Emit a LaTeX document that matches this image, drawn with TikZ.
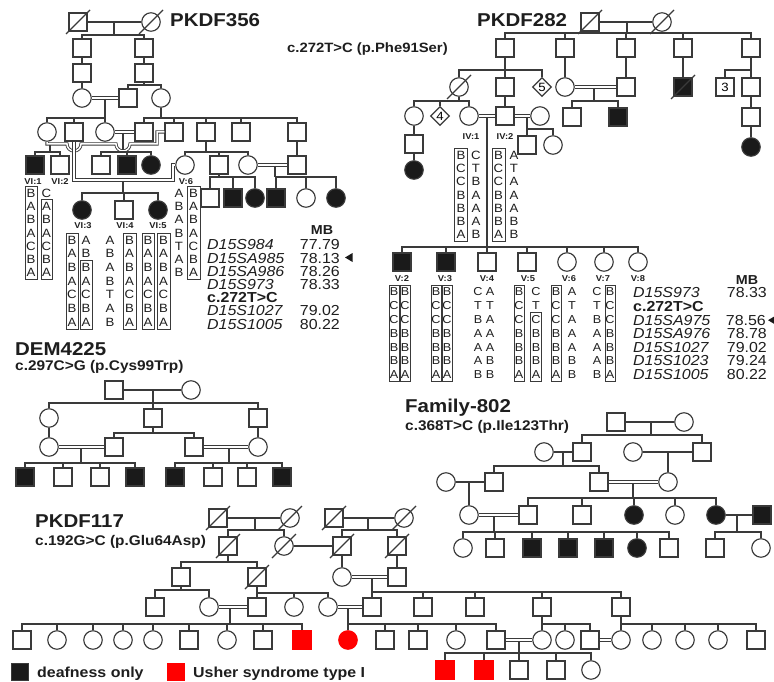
\documentclass[tikz,border=0pt]{standalone}
\usepackage{fontspec}
\setmainfont[FakeStretch=1.1]{Liberation Sans}
\usetikzlibrary{shapes.geometric}
\definecolor{lc}{HTML}{3A3A3A}
\definecolor{aff}{HTML}{1A1A1A}
\definecolor{ush}{HTML}{FF0000}
\definecolor{tc}{HTML}{1E1E1E}
\newcommand{\fsz}[1]{\fontsize{#1}{#1}\selectfont}
\newcommand{\kid}[2]{\draw[ln] (#1.north) |- (#2);}
\newcommand{\decd}[1]{\draw[ln] ([shift={(-12pt,-12pt)}]#1.center) -- ([shift={(12pt,12pt)}]#1.center);}
\newcommand{\hcol}[6]{\foreach \l [count=\i from 0] in {#6}{\node[hl,font=\fsz{#5}] (#1-\i) at (#2,#3+\i*#4) {\l};}}
\newcommand{\hbx}[6]{\draw[hb] (#1-#6,#2+#3*#4-#3/2) rectangle (#1+#6,#2+#3*#5+#3/2);}
\begin{document}
\begin{tikzpicture}[x=1pt,y=-1pt,
 ln/.style={draw=lc,line width=1.15pt},
 dbl/.style={draw=lc,double=white,double distance=1.5pt,line width=0.85pt},
 sym/.style={draw=lc,line width=1.15pt,fill=white,inner sep=0pt,minimum size=18pt},
 sq/.style={sym,rectangle},
 ci/.style={sym,circle,minimum size=18.5pt},
 fsq/.style={sq,fill=aff}, fci/.style={ci,fill=aff},
 rsq/.style={sq,fill=ush,draw=ush}, rci/.style={ci,fill=ush,draw=ush},
 dia/.style={sym,diamond,minimum size=19pt,font=\fsz{12}},
 nsq/.style={sq,font=\fsz{12}},
 ttl/.style={inner sep=0pt,anchor=base west,text=tc,font=\fsz{18.6}\bfseries},
 sub/.style={inner sep=0pt,anchor=base west,text=tc,font=\fsz{14}\bfseries},
 lab/.style={inner sep=0pt,text=tc,font=\fsz{8.5}\bfseries},
 hl/.style={inner sep=0pt,text=tc},
 hb/.style={draw=lc,line width=0.75pt},
 mk/.style={inner sep=0pt,anchor=west,text=tc,font=\fsz{14.5}\itshape},
 mkb/.style={inner sep=0pt,anchor=west,text=tc,font=\fsz{14.5}\bfseries},
 mv/.style={inner sep=0pt,anchor=east,text=tc,font=\fsz{14.5}},
 mb/.style={inner sep=0pt,text=tc,font=\fsz{13}\bfseries},
 leg/.style={inner sep=0pt,anchor=base west,text=tc,font=\fsz{14.5}\bfseries}
]
\useasboundingbox[fill=white] (0,0) rectangle (774,682);

%================ PKDF356 ================
\node[ttl] (A-t) at (170,27) {PKDF356};
\node[sq] (A1) at (78,22) {}; \node[ci] (A2) at (151,22) {};
\draw[ln] (A1) -- (A2);
\coordinate (A12m) at (114,22); \coordinate (A12s) at (114,35);
\draw[ln] (A12m) -- (A12s);
\node[sq] (A3) at (82,48) {}; \node[sq] (A4) at (144,48) {};
\kid{A3}{A12s} \kid{A4}{A12s}
\node[sq] (A5) at (82,73) {}; \node[sq] (A6) at (144,73) {};
\draw[ln] (A3) -- (A5); \draw[ln] (A4) -- (A6);
\node[ci] (A7) at (82,98) {}; \draw[ln] (A5) -- (A7);
\node[sq] (A8) at (128,98) {}; \node[ci] (A9) at (161,98) {};
\coordinate (A6s) at (144,85); \draw[ln] (A6.south) -- (A6s);
\kid{A8}{A6s} \kid{A9}{A6s}
\draw[dbl] (A7) -- (A8);
\coordinate (A78m) at (105,99); \coordinate (A78s) at (105,118);
\draw[ln] (A78m) -- (A78s);
\node[ci] (B1) at (47,132) {}; \node[sq] (B2) at (74,132) {}; \node[ci] (B3) at (105,132) {};
\kid{B1}{A78s} \kid{B2}{A78s} \kid{B3}{A78s}
\coordinate (A9s) at (161,118); \draw[ln] (A9.south) -- (A9s);
\node[sq] (B4) at (144,132) {}; \node[sq] (B5) at (174,132) {}; \node[sq] (B6) at (206,132) {};
\node[sq] (B7) at (241,132) {}; \node[sq] (B8) at (297,132) {};
\kid{B4}{A9s} \kid{B5}{A9s} \kid{B6}{A9s} \kid{B7}{A9s} \kid{B8}{A9s}
\draw[dbl] (B3) -- (B4);
\coordinate (B34m) at (123,133); \coordinate (B34s) at (123,152);
\draw[ln] (B34m) -- (B34s);
\draw[dbl] (B1.south) -- (47,144) -- (67,144) arc[start angle=180,end angle=360,radius=7pt]
  -- (116,144) arc[start angle=180,end angle=360,radius=7pt] -- (157,144) -- (157,132) -- (B5.west);
\coordinate (B15m) at (50,145.5); \coordinate (B15s) at (50,152);
\draw[ln] (B15m) -- (B15s);
\node[fsq] (C1) at (35,165) {}; \node[sq] (C2) at (60,165) {};
\kid{C1}{B15s} \kid{C2}{B15s}
\node[sq] (C3) at (101,165) {}; \node[fsq] (C4) at (127,165) {}; \node[fci] (C5) at (151,165) {};
\kid{C3}{B34s} \kid{C4}{B34s} \kid{C5}{B34s}
\node[ci] (C6) at (185,165) {};
\draw[dbl] (B2.south) -- (74,180) -- (173,180) -- (173,165) -- (C6.west);
\coordinate (B26m) at (123,181); \coordinate (B26s) at (123,193);
\draw[ln] (B26m) -- (B26s);
\node[fci] (D1) at (82,210) {}; \node[sq] (D2) at (124,210) {}; \node[fci] (D3) at (158,210) {};
\kid{D1}{B26s} \kid{D2}{B26s} \kid{D3}{B26s}
\coordinate (B6s) at (206,152); \draw[ln] (B6.south) -- (B6s);
\node[sq] (C7) at (219,165) {}; \node[ci] (C8) at (248,165) {};
\kid{C6}{B6s} \kid{C7}{B6s} \kid{C8}{B6s}
\node[sq] (C9) at (297,165) {}; \draw[ln] (B8) -- (C9);
\draw[dbl] (C8) -- (C9);
\coordinate (C89m) at (275,166); \coordinate (C89s) at (275,177);
\draw[ln] (C89m) -- (C89s);
\node[fsq] (E4) at (276,198) {}; \node[ci] (E5) at (306,198) {}; \node[fci] (E6) at (336,198) {};
\kid{E4}{C89s} \kid{E5}{C89s} \kid{E6}{C89s}
\coordinate (C7s) at (219,177); \draw[ln] (C7.south) -- (C7s);
\node[sq] (E1) at (210,198) {}; \node[fsq] (E2) at (233,198) {}; \node[fci] (E3) at (255,198) {};
\kid{E1}{C7s} \kid{E2}{C7s} \kid{E3}{C7s}
\decd{A1} \decd{A2}
\node[lab] (A-l1) at (33,182) {VI:1}; \node[lab] (A-l2) at (60,182) {VI:2};
\node[lab] (A-l6) at (186,182) {V:6};
\node[lab] (A-l3) at (83,226) {VI:3}; \node[lab] (A-l4) at (125,226) {VI:4}; \node[lab] (A-l5) at (158,226) {VI:5};
% haplotypes
\hcol{h1a}{31}{193}{13.3}{12}{B,A,B,A,C,B,A} \hbx{31}{193}{13.3}{0}{6}{6}
\hcol{h1b}{46.5}{193}{13.3}{12}{C,A,B,A,C,B,A} \hbx{46.5}{193}{13.3}{1}{6}{5.5}
\hcol{h3a}{72}{240}{13.7}{12}{B,A,B,A,C,B,A} \hbx{72}{240}{13.7}{0}{6}{6}
\hcol{h3b}{86}{240}{13.7}{12}{A,B,B,A,C,B,A} \hbx{86}{240}{13.7}{2}{6}{6}
\hcol{h4a}{110}{240}{13.7}{12}{A,B,A,B,T,A,B}
\hcol{h4b}{129.5}{240}{13.7}{12}{B,A,B,A,C,B,A} \hbx{129.5}{240}{13.7}{0}{6}{6.5}
\hcol{h5a}{148}{240}{13.7}{12}{B,A,B,A,C,B,A} \hbx{148}{240}{13.7}{0}{6}{6}
\hcol{h5b}{163.5}{240}{13.7}{12}{B,A,B,A,C,B,A} \hbx{163.5}{240}{13.7}{0}{6}{6.5}
\hcol{h6a}{179}{193}{13.3}{12}{A,B,A,B,T,A,B}
\hcol{h6b}{193.5}{193}{13.3}{12}{B,A,B,A,C,B,A} \hbx{193.5}{193}{13.3}{0}{6}{6.5}
% markers
\node[mb] (A-mb) at (322,230) {MB};
\node[mk] (A-m1) at (207,245) {D15S984};   \node[mv] (A-v1) at (340,245) {77.79};
\node[mk] (A-m2) at (207,258.2) {D15SA985}; \node[mv] (A-v2) at (340,258.2) {78.13};
\node[mk] (A-m3) at (207,271.4) {D15SA986}; \node[mv] (A-v3) at (340,271.4) {78.26};
\node[mk] (A-m4) at (207,284.6) {D15S973};  \node[mv] (A-v4) at (340,284.6) {78.33};
\node[mkb] (A-m5) at (207,297.8) {c.272T>C};
\node[mk] (A-m6) at (207,311) {D15S1027};  \node[mv] (A-v6) at (340,311) {79.02};
\node[mk] (A-m7) at (207,324.2) {D15S1005}; \node[mv] (A-v7) at (340,324.2) {80.22};
\fill[aff] (345,257.5) -- (352.5,253) -- (352.5,262) -- cycle;

%================ PKDF282 ================
\node[ttl] (P-t) at (477,27) {PKDF282};
\node[sub,font=\fsz{13.5}\bfseries] (P-s) at (287,52.5) {c.272T>C (p.Phe91Ser)};
\node[sq] (P1) at (590,22) {}; \node[ci] (P2) at (662,22) {};
\draw[ln] (P1) -- (P2);
\coordinate (P12m) at (627,22); \coordinate (P12s) at (627,33);
\draw[ln] (P12m) -- (P12s);
\node[sq] (P3) at (505,48) {}; \node[sq] (P4) at (565,48) {}; \node[sq] (P5) at (626,48) {};
\node[sq] (P6) at (683,48) {}; \node[sq] (P7) at (751,48) {};
\kid{P3}{P12s} \kid{P4}{P12s} \kid{P5}{P12s} \kid{P6}{P12s} \kid{P7}{P12s}
\coordinate (P3s) at (505,70); \draw[ln] (P3.south) -- (P3s);
\node[ci] (Q1) at (459,87) {}; \node[sq] (Q2) at (505,87) {}; \node[dia] (Q3) at (542,87) {5};
\kid{Q1}{P3s} \kid{Q2}{P3s} \kid{Q3}{P3s}
\node[ci] (Q4) at (565,87) {}; \draw[ln] (P4) -- (Q4);
\node[sq] (Q5) at (626,87) {}; \draw[ln] (P5) -- (Q5);
\draw[dbl] (Q4) -- (Q5);
\coordinate (Q45m) at (594,88); \coordinate (Q45s) at (594,101);
\draw[ln] (Q45m) -- (Q45s);
\node[sq] (R1) at (572,117) {}; \node[fsq] (R2) at (618,117) {};
\kid{R1}{Q45s} \kid{R2}{Q45s}
\node[fsq] (Q6) at (683,87) {}; \draw[ln] (P6) -- (Q6);
\coordinate (P7s) at (751,70); \draw[ln] (P7.south) -- (P7s);
\node[nsq] (Q7) at (725,87) {3}; \node[sq] (Q8) at (751,87) {};
\kid{Q7}{P7s} \kid{Q8}{P7s}
\node[sq] (R3) at (751,117) {}; \node[fci] (R4) at (751,147) {};
\draw[ln] (Q8) -- (R3); \draw[ln] (R3) -- (R4);
\coordinate (Q1s) at (459,101); \draw[ln] (Q1.south) -- (Q1s);
\node[ci] (R5) at (414,116) {}; \node[dia] (R6) at (440,116) {4}; \node[ci] (R7) at (469,116) {};
\kid{R5}{Q1s} \kid{R6}{Q1s} \kid{R7}{Q1s}
\node[sq] (R8) at (505,116) {}; \draw[ln] (Q2) -- (R8);
\node[ci] (R9) at (540,116) {};
\draw[dbl] (R7) -- (R8); \draw[dbl] (R8) -- (R9);
\coordinate (R89m) at (527,117); \coordinate (R89s) at (527,129);
\draw[ln] (R89m) -- (R89s);
\node[sq] (S1) at (527,145) {}; \node[ci] (S2) at (553,145) {};
\kid{S1}{R89s} \kid{S2}{R89s}
\node[sq] (S3) at (414,144) {}; \node[fci] (S4) at (414,170) {};
\draw[ln] (R5) -- (S3); \draw[ln] (S3) -- (S4);
\decd{P1} \decd{P2} \decd{Q1} \decd{Q6}
\node[lab] (P-l1) at (471,137) {IV:1}; \node[lab] (P-l2) at (505,137) {IV:2};
\coordinate (R78m) at (487,117); \coordinate (R78s) at (487,247);
\draw[ln] (R78m) -- (R78s);
\node[fsq] (T1) at (402,262) {}; \node[fsq] (T2) at (446,262) {}; \node[sq] (T3) at (487,262) {};
\node[sq] (T4) at (527,262) {}; \node[ci] (T5) at (567,262) {}; \node[ci] (T6) at (604,262) {};
\node[ci] (T7) at (638,262) {};
\kid{T1}{R78s} \kid{T2}{R78s} \kid{T3}{R78s} \kid{T4}{R78s} \kid{T5}{R78s} \kid{T6}{R78s} \kid{T7}{R78s}
\node[lab] (P-v2) at (402,279) {V:2}; \node[lab] (P-v3) at (445,279) {V:3};
\node[lab] (P-v4) at (487,279) {V:4}; \node[lab] (P-v5) at (528,279) {V:5};
\node[lab] (P-v6) at (569,279) {V:6}; \node[lab] (P-v7) at (603,279) {V:7};
\node[lab] (P-v8) at (638,279) {V:8};
% haplotypes IV
\hcol{i1a}{461}{155}{13.3}{12}{B,C,C,B,B,B,A} \hbx{461}{155}{13.3}{0}{6}{6.5}
\hcol{i1b}{476}{155}{13.3}{12}{C,T,B,A,A,A,B}
\hcol{i2a}{498.5}{155}{13.3}{12}{B,C,C,B,B,B,A} \hbx{498.5}{155}{13.3}{0}{6}{6.5}
\hcol{i2b}{514}{155}{13.3}{12}{A,T,A,A,A,B,B}
% haplotypes V
\hcol{j2a}{394}{292}{13.8}{11.5}{B,C,C,B,B,B,A} \hbx{394}{292}{13.8}{0}{6}{4.9}
\hcol{j2b}{405}{292}{13.8}{11.5}{B,C,C,B,B,B,A} \hbx{405}{292}{13.8}{0}{6}{4.9}
\hcol{j3a}{436}{292}{13.8}{11.5}{B,C,C,B,B,B,A} \hbx{436}{292}{13.8}{0}{6}{4.9}
\hcol{j3b}{447}{292}{13.8}{11.5}{B,C,C,B,B,B,A} \hbx{447}{292}{13.8}{0}{6}{4.9}
\hcol{j4a}{478}{292}{13.8}{11.5}{C,T,B,A,A,A,B}
\hcol{j4b}{490}{292}{13.8}{11.5}{A,T,A,A,A,B,B}
\hcol{j5a}{519}{292}{13.8}{11.5}{B,C,C,B,B,B,A} \hbx{519}{292}{13.8}{0}{6}{4.9}
\hcol{j5b}{536}{292}{13.8}{11.5}{C,T,C,B,B,B,A} \hbx{536}{292}{13.8}{2}{6}{5.5}
\hcol{j6a}{556}{292}{13.8}{11.5}{B,C,C,B,B,B,A} \hbx{556}{292}{13.8}{0}{6}{4.9}
\hcol{j6b}{572}{292}{13.8}{11.5}{A,T,A,A,A,B,B}
\hcol{j7a}{597}{292}{13.8}{11.5}{C,T,B,A,A,A,B}
\hcol{j7b}{610}{292}{13.8}{11.5}{B,C,C,B,B,B,A} \hbx{610}{292}{13.8}{0}{6}{4.9}
% markers
\node[mb] (P-mb) at (747,280.5) {MB};
\node[mk] (P-m1) at (633,293) {D15S973};    \node[mv] (P-w1) at (767,293) {78.33};
\node[mkb] (P-m2) at (633,306.6) {c.272T>C};
\node[mk] (P-m3) at (633,320.2) {D15SA975};  \node[mv] (P-w3) at (766,320.2) {78.56};
\node[mk] (P-m4) at (633,333.8) {D15SA976};  \node[mv] (P-w4) at (767,333.8) {78.78};
\node[mk] (P-m5) at (633,347.4) {D15S1027};  \node[mv] (P-w5) at (767,347.4) {79.02};
\node[mk] (P-m6) at (633,361) {D15S1023};    \node[mv] (P-w6) at (767,361) {79.24};
\node[mk] (P-m7) at (633,374.6) {D15S1005};  \node[mv] (P-w7) at (767,374.6) {80.22};
\fill[aff] (768,320.2) -- (775,316) -- (775,324.4) -- cycle;

%================ DEM4225 ================
\node[ttl] (D-t) at (15,355) {DEM4225};
\node[sub] (D-s) at (15,370) {c.297C>G (p.Cys99Trp)};
\node[sq] (U1) at (114,390) {}; \node[ci] (U2) at (191,390) {};
\draw[ln] (U1) -- (U2);
\coordinate (U12m) at (153,390); \coordinate (U12s) at (153,403);
\draw[ln] (U12m) -- (U12s);
\node[ci] (U3) at (49,418) {}; \node[sq] (U4) at (153,418) {}; \node[sq] (U5) at (258,418) {};
\kid{U3}{U12s} \kid{U4}{U12s} \kid{U5}{U12s}
\coordinate (U4s) at (153,433); \draw[ln] (U4.south) -- (U4s);
\node[ci] (U6) at (49,447) {}; \node[sq] (U7) at (114,447) {};
\node[sq] (U8) at (194,447) {}; \node[ci] (U9) at (258,447) {};
\kid{U7}{U4s} \kid{U8}{U4s}
\draw[ln] (U3) -- (U6); \draw[ln] (U5) -- (U9);
\draw[dbl] (U6) -- (U7); \draw[dbl] (U8) -- (U9);
\coordinate (U67m) at (81,448); \coordinate (U67s) at (81,463);
\draw[ln] (U67m) -- (U67s);
\node[fsq] (V1) at (25,477) {}; \node[sq] (V2) at (63,477) {}; \node[sq] (V3) at (100,477) {}; \node[fsq] (V4) at (135,477) {};
\kid{V1}{U67s} \kid{V2}{U67s} \kid{V3}{U67s} \kid{V4}{U67s}
\coordinate (U89m) at (229,448); \coordinate (U89s) at (229,463);
\draw[ln] (U89m) -- (U89s);
\node[fsq] (V5) at (175,477) {}; \node[sq] (V6) at (213,477) {}; \node[sq] (V7) at (247,477) {}; \node[fsq] (V8) at (282,477) {};
\kid{V5}{U89s} \kid{V6}{U89s} \kid{V7}{U89s} \kid{V8}{U89s}

%================ Family-802 ================
\node[ttl] (F-t) at (405,412) {Family-802};
\node[sub] (F-s) at (405,430) {c.368T>C (p.Ile123Thr)};
\node[sq] (F1) at (616,422) {}; \node[ci] (F2) at (684,422) {};
\draw[ln] (F1) -- (F2);
\coordinate (F12m) at (651,422); \coordinate (F12s) at (651,435);
\draw[ln] (F12m) -- (F12s);
\node[sq] (F3) at (582,452) {}; \node[sq] (F4) at (702,452) {};
\kid{F3}{F12s} \kid{F4}{F12s}
\node[ci] (F5) at (544,452) {}; \draw[ln] (F5) -- (F3);
\coordinate (F53m) at (563,452); \coordinate (F53s) at (563,466);
\draw[ln] (F53m) -- (F53s);
\node[sq] (G2) at (494,482) {}; \node[sq] (G3) at (599,482) {};
\kid{G2}{F53s} \kid{G3}{F53s}
\node[ci] (F6) at (633,452) {}; \draw[ln] (F6) -- (F4);
\coordinate (F64m) at (668,452);
\node[ci] (G4) at (668,482) {}; \draw[ln] (F64m) -- (G4);
\node[ci] (G1) at (446,482) {}; \draw[ln] (G1) -- (G2);
\coordinate (G12m) at (469,482);
\node[ci] (H1) at (469,515) {}; \draw[ln] (G12m) -- (H1);
\draw[dbl] (G3) -- (G4);
\coordinate (G34m) at (633,483); \coordinate (G34s) at (633,498);
\draw[ln] (G34m) -- (G34s);
\node[sq] (H2) at (528,515) {}; \node[sq] (H3) at (582,515) {}; \node[fci] (H4) at (634,515) {};
\node[ci] (H5) at (675,515) {}; \node[fci] (H6) at (716,515) {};
\kid{H2}{G34s} \kid{H3}{G34s} \kid{H4}{G34s} \kid{H5}{G34s} \kid{H6}{G34s}
\node[fsq] (H7) at (762,515) {}; \draw[ln] (H6) -- (H7);
\coordinate (H67m) at (737,515); \coordinate (H67s) at (737,532);
\draw[ln] (H67m) -- (H67s);
\node[sq] (K8) at (715,548) {}; \node[ci] (K9) at (761,548) {};
\kid{K8}{H67s} \kid{K9}{H67s}
\draw[dbl] (H1) -- (H2);
\coordinate (H12m) at (494,516); \coordinate (H12s) at (494,532);
\draw[ln] (H12m) -- (H12s);
\node[ci] (K1) at (463,548) {}; \node[sq] (K2) at (495,548) {}; \node[fsq] (K3) at (532,548) {};
\node[fsq] (K4) at (568,548) {}; \node[fsq] (K5) at (604,548) {}; \node[fci] (K6) at (637,548) {};
\node[sq] (K7) at (669,548) {};
\kid{K1}{H12s} \kid{K2}{H12s} \kid{K3}{H12s} \kid{K4}{H12s} \kid{K5}{H12s} \kid{K6}{H12s} \kid{K7}{H12s}

%================ PKDF117 ================
\node[ttl] (K-t) at (35,527) {PKDF117};
\node[sub] (K-s) at (35,545) {c.192G>C (p.Glu64Asp)};
\node[sq] (W1) at (218,518) {}; \node[ci] (W2) at (290,518) {};
\node[sq] (W3) at (334,518) {}; \node[ci] (W4) at (404,518) {};
\draw[ln] (W1) -- (W2); \draw[ln] (W3) -- (W4);
\coordinate (W12m) at (255,518); \coordinate (W12s) at (255,530);
\draw[ln] (W12m) -- (W12s);
\coordinate (W34m) at (368,518); \coordinate (W34s) at (368,530);
\draw[ln] (W34m) -- (W34s);
\node[sq] (W5) at (228,546) {}; \node[ci] (W6) at (284,546) {};
\node[sq] (W7) at (342,546) {}; \node[sq] (W8) at (397,546) {};
\kid{W5}{W12s} \kid{W6}{W12s} \kid{W7}{W34s} \kid{W8}{W34s}
\draw[ln] (W6) -- (W7);
\coordinate (W5s) at (228,562); \draw[ln] (W5.south) -- (W5s);
\node[sq] (X1) at (181,577) {}; \node[sq] (X2) at (257,577) {};
\kid{X1}{W5s} \kid{X2}{W5s}
\node[ci] (X3) at (342,577) {}; \draw[ln] (W7) -- (X3);
\node[sq] (X4) at (397,577) {}; \draw[ln] (W8) -- (X4);
\draw[dbl] (X3) -- (X4);
\coordinate (X34m) at (372,578); \coordinate (X34s) at (372,592);
\draw[ln] (X34m) -- (X34s);
\node[sq] (Y5) at (372,607) {}; \node[sq] (Y6) at (423,607) {}; \node[sq] (Y7) at (475,607) {};
\node[sq] (Y8) at (542,607) {}; \node[sq] (Y9) at (621,607) {};
\kid{Y5}{X34s} \kid{Y6}{X34s} \kid{Y7}{X34s} \kid{Y8}{X34s} \kid{Y9}{X34s}
\coordinate (X1s) at (181,590); \draw[ln] (X1.south) -- (X1s);
\node[sq] (Y1) at (155,607) {}; \node[ci] (Y2) at (209,607) {};
\kid{Y1}{X1s} \kid{Y2}{X1s}
\coordinate (X2s) at (257,593); \draw[ln] (X2.south) -- (X2s);
\node[sq] (Y3) at (257,607) {}; \node[ci] (Y4) at (294,607) {}; \node[ci] (Y4b) at (328,607) {};
\kid{Y3}{X2s} \kid{Y4}{X2s} \kid{Y4b}{X2s}
\draw[dbl] (Y2) -- (Y3);
\coordinate (Y23m) at (230,608); \coordinate (Y23s) at (230,624);
\draw[ln] (Y23m) -- (Y23s);
\node[sq] (Z1) at (22,640) {}; \node[ci] (Z2) at (57,640) {}; \node[ci] (Z3) at (93,640) {};
\node[ci] (Z4) at (123,640) {}; \node[ci] (Z5) at (153,640) {}; \node[sq] (Z6) at (189,640) {};
\node[ci] (Z7) at (227,640) {}; \node[sq] (Z8) at (263,640) {}; \node[rsq] (Z9) at (302,640) {};
\kid{Z1}{Y23s} \kid{Z2}{Y23s} \kid{Z3}{Y23s} \kid{Z4}{Y23s} \kid{Z5}{Y23s}
\kid{Z6}{Y23s} \kid{Z7}{Y23s} \kid{Z8}{Y23s} \kid{Z9}{Y23s}
\draw[dbl] (Y4b) -- (Y5);
\coordinate (Y45m) at (348,608); \coordinate (Y45s) at (348,624);
\draw[ln] (Y45m) -- (Y45s);
\node[rci] (ZA) at (348,640) {}; \node[sq] (ZB) at (385,640) {}; \node[sq] (ZC) at (418,640) {};
\node[ci] (ZD) at (456,640) {}; \node[sq] (ZE) at (496,640) {};
\kid{ZA}{Y45s} \kid{ZB}{Y45s} \kid{ZC}{Y45s} \kid{ZD}{Y45s} \kid{ZE}{Y45s}
\coordinate (Y8s) at (542,624); \draw[ln] (Y8.south) -- (Y8s);
\node[ci] (ZF) at (542,640) {}; \node[ci] (ZG) at (565,640) {}; \node[sq] (ZH) at (590,640) {};
\kid{ZF}{Y8s} \kid{ZG}{Y8s} \kid{ZH}{Y8s}
\coordinate (Y9s) at (621,624); \draw[ln] (Y9.south) -- (Y9s);
\node[ci] (ZI) at (621,640) {}; \node[ci] (ZJ) at (652,640) {}; \node[ci] (ZK) at (685,640) {};
\node[ci] (ZL) at (718,640) {}; \node[sq] (ZM) at (756,640) {};
\kid{ZI}{Y9s} \kid{ZJ}{Y9s} \kid{ZK}{Y9s} \kid{ZL}{Y9s} \kid{ZM}{Y9s}
\draw[dbl] (ZE) -- (ZF);
\draw[dbl] (ZH) -- (ZI);
\coordinate (ZEFm) at (519,641); \coordinate (ZEFs) at (519,653);
\draw[ln] (ZEFm) -- (ZEFs);
\node[rsq] (AA) at (445,670) {}; \node[rsq] (AB) at (484,670) {}; \node[sq] (AC) at (519,670) {};
\node[sq] (AD) at (556,670) {}; \node[ci] (AE) at (591,670) {};
\kid{AA}{ZEFs} \kid{AB}{ZEFs} \kid{AC}{ZEFs} \kid{AD}{ZEFs} \kid{AE}{ZEFs}
\decd{W1} \decd{W2} \decd{W3} \decd{W4} \decd{W5} \decd{W6} \decd{W7} \decd{W8} \decd{X2}

%================ legend ================
\node[fsq,minimum size=17pt] (L1) at (20,672) {};
\node[leg] (L1t) at (37,677) {deafness only};
\node[rsq,minimum size=17pt] (L2) at (176,672) {};
\node[leg] (L2t) at (193,677) {Usher syndrome type I};
\end{tikzpicture}
\end{document}
